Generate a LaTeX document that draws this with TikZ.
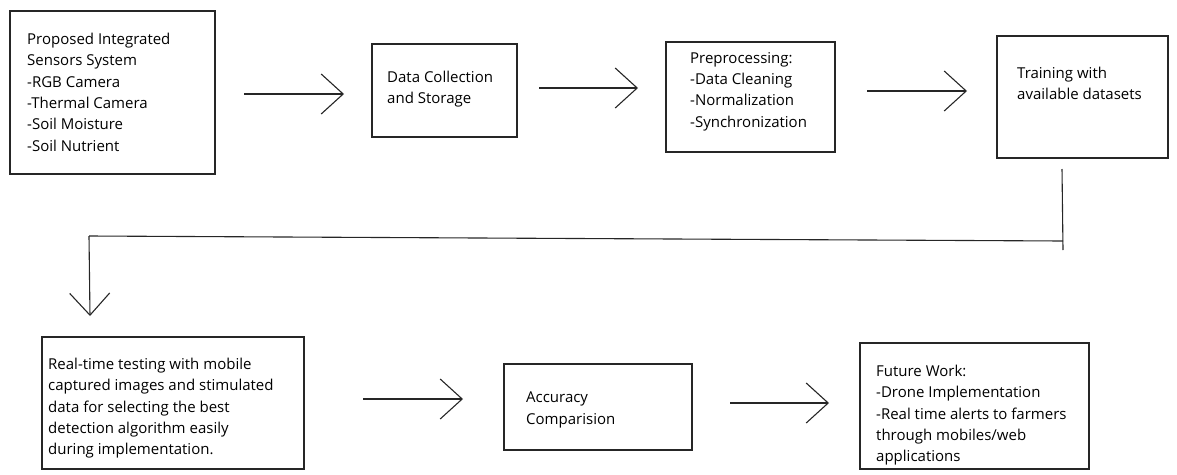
\documentclass[tikz,border=0pt]{standalone}
\usepackage{fontspec}
\setmainfont{Open Sans}
\usetikzlibrary{arrows.meta}
\tikzset{
  box/.style={draw=black!85, line width=1.1pt, rectangle, inner sep=0pt},
  txt/.style={align=left, inner sep=0pt, anchor=north west, font=\fontsize{15}{21.3}\selectfont},
  arr/.style={draw=black!85, line width=1.1pt, -{Straight Barb[length=22pt,width=40pt]}},
  ln/.style={draw=black!85, line width=1.1pt}
}
\begin{document}
\begin{tikzpicture}[x=1pt,y=-1pt]
\useasboundingbox (0,0) rectangle (1177,474);
% boxes
\node[box, minimum width=205pt, minimum height=163pt] (b1) at (112.5,92.5) {};
\node[box, minimum width=145pt, minimum height=93pt] (b2) at (444.5,90.5) {};
\node[box, minimum width=169pt, minimum height=110pt] (b3) at (750.5,97) {};
\node[box, minimum width=171pt, minimum height=122pt] (b4) at (1082.5,97) {};
\node[box, minimum width=262pt, minimum height=132pt] (b5) at (173,403) {};
\node[box, minimum width=188pt, minimum height=86pt] (b6) at (598,407) {};
\node[box, minimum width=229pt, minimum height=126pt] (b7) at (974.5,406) {};
% texts
\node[txt] (t1) at (27,33) {Proposed Integrated\\Sensors System\\-RGB Camera\\-Thermal Camera\\-Soil Moisture\\-Soil Nutrient};
\node[txt] (t2) at (387,71) {Data Collection\\and Storage};
\node[txt] (t3) at (690,52) {Preprocessing:\\-Data Cleaning\\-Normalization\\-Synchronization};
\node[txt] (t4) at (1017,67) {Training with\\available datasets};
\node[txt] (t5) at (48,358) {Real-time testing with mobile\\captured images and stimulated\\data for selecting the best\\detection algorithm easily\\during implementation.};
\node[txt] (t6) at (526,392) {Accuracy\\Comparision};
\node[txt] (t7) at (876,365) {Future Work:\\-Drone Implementation\\-Real time alerts to farmers\\through mobiles/web\\applications};
% connector coordinates
\coordinate (a1s) at (244,94);  \coordinate (a1e) at (344,94);
\coordinate (a2s) at (539,88);  \coordinate (a2e) at (638,88);
\coordinate (a3s) at (867,91);  \coordinate (a3e) at (967,91);
\coordinate (v1t) at (1062,169); \coordinate (v1b) at (1063,250);
\coordinate (h1r) at (1063,241); \coordinate (h1l) at (89,236);
\coordinate (v2e) at (90,316);
\coordinate (a4s) at (363,399); \coordinate (a4e) at (463,399);
\coordinate (a5s) at (730,403); \coordinate (a5e) at (829,403);
% connectors
\draw[arr] (a1s) -- (a1e);
\draw[arr] (a2s) -- (a2e);
\draw[arr] (a3s) -- (a3e);
\draw[ln] (v1t) -- (v1b);
\draw[ln] (h1r) -- (h1l);
\draw[arr] (h1l) -- (v2e);
\draw[arr] (a4s) -- (a4e);
\draw[arr] (a5s) -- (a5e);
\end{tikzpicture}
\end{document}
